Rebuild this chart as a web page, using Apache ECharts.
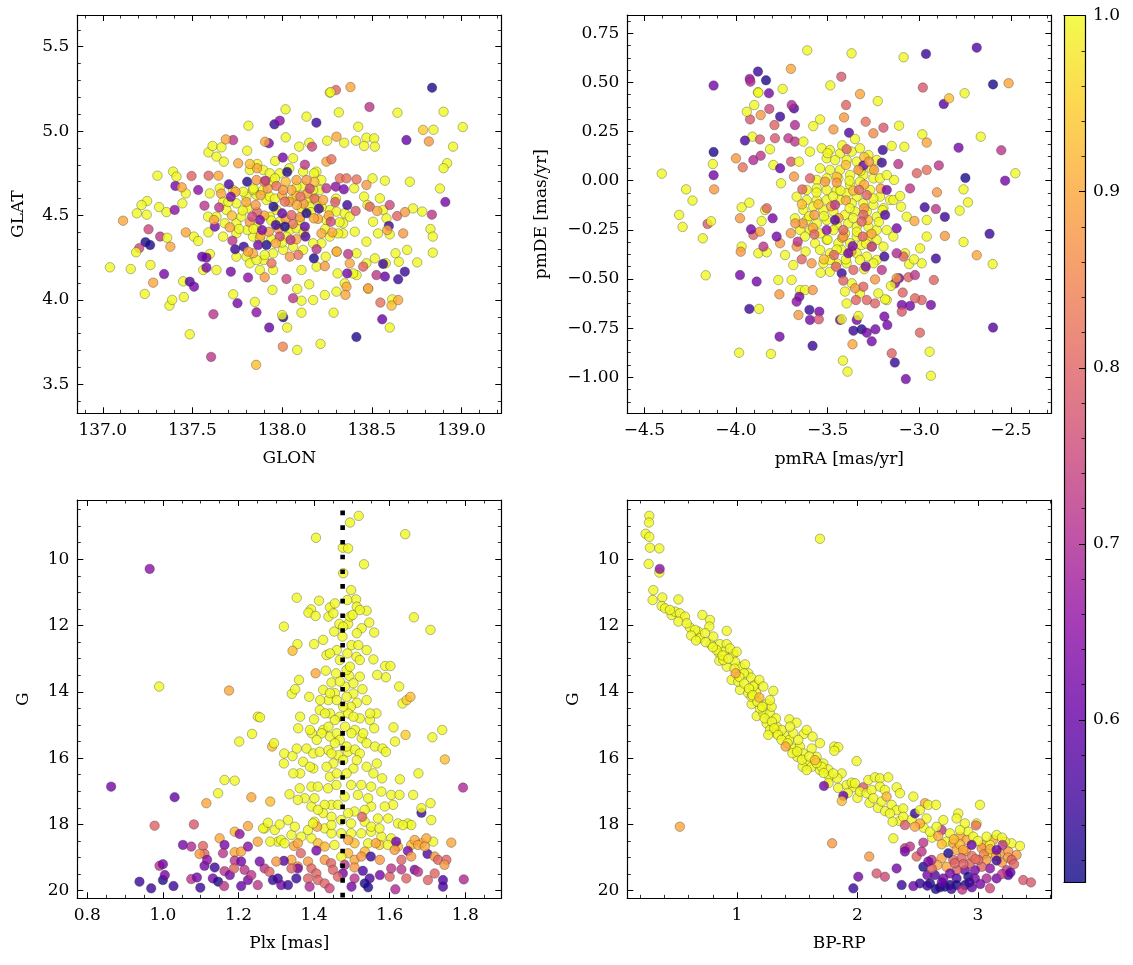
<!DOCTYPE html>
<html><head><meta charset="utf-8">
<script src="https://cdn.jsdelivr.net/npm/echarts@6/dist/echarts.min.js"></script>
<style>html,body{margin:0;padding:0;background:#fff}#c{width:1133px;height:965px}</style>
</head><body><div id="c"></div>
<script>
// ---------- DATA ----------
// Panel 1: [GLON, GLAT, probability]
const glonGlatOuter = [
[138.836,5.257,0.52],[138.381,5.261,0.9],[138.300,5.243,0.8],[138.270,5.230,1],
[138.900,5.115,1],[139.007,5.024,1],[138.844,5.008,1],[138.953,4.908,1],[138.920,4.810,1],[138.900,4.780,1],[138.880,4.660,1],[138.910,4.580,0.62],[138.835,4.505,0.72],[138.827,4.420,1],[138.840,4.375,1],[138.840,4.280,1],
[137.113,4.469,0.9],[137.190,4.513,1],[137.245,4.505,1],[137.247,4.586,1],[137.216,4.562,1],[137.305,4.736,1],[137.314,4.550,1],[137.355,4.520,1],[137.320,4.375,0.72],[137.359,4.368,1],[137.255,4.418,0.75],[137.238,4.342,0.52],[137.264,4.325,0.52],[137.203,4.306,0.75],[137.186,4.282,1],[137.040,4.193,1],[137.156,4.183,1],[137.266,4.207,1],[137.342,4.153,0.62],[137.281,4.102,0.9],[137.234,4.035,1],[137.372,3.966,1],[137.387,4.000,1],
[137.485,3.796,1],[137.604,3.662,0.72],[137.617,3.915,0.72],[137.855,3.615,0.93],[137.928,3.836,0.6],[137.857,3.926,0.65],[138.006,3.897,0.52],[138.000,3.910,1],[138.028,3.836,1],[138.084,3.703,1],[138.004,3.723,0.85],[138.108,3.924,1],[138.214,3.739,1],[138.287,3.924,1],[138.414,3.780,0.52],[138.558,3.885,0.6],[138.600,3.836,1]
];
const glonGlatYellow = [
[138.266,5.228,1],[138.019,5.129,1],[138.316,5.111,1],[138.643,5.109,1],[138.136,5.086,1],[138.424,5.026,1],[137.812,5.032,1],[138.020,4.963,1],[138.251,4.943,1],[138.303,4.967,0.9],[138.346,4.931,1],[138.411,4.943,1],[138.470,4.961,1],[138.513,4.957,1],[138.517,4.908,1],[138.457,4.912,1],[138.095,4.908,1],[138.151,4.931,1],[137.805,4.884,1],[137.589,4.874,1],[137.612,4.912,1],[137.662,4.904,1],[137.634,4.849,1],[137.675,4.819,1],[138.786,5.007,0.95],[138.712,4.700,1],[138.504,4.720,1],[138.573,4.706,1],[138.402,4.661,1],[138.457,4.612,1],[138.545,4.602,1],[138.476,4.562,1],[138.563,4.533,1],[138.730,4.542,1],[138.781,4.523,1],[138.507,4.463,1],[138.582,4.483,1],[138.600,4.388,1],[138.535,4.394,1],[138.470,4.345,1],[138.405,4.404,1],[138.340,4.394,1],[138.266,4.375,1],[138.303,4.286,1],[138.243,4.256,1],[138.192,4.197,1],[138.108,4.177,1],[138.151,4.092,1],[138.084,4.065,1],[138.108,3.995,1],[138.173,3.999,1],[138.238,4.029,1],[138.303,4.049,1],[138.349,4.098,1],[138.415,4.147,1],[138.480,4.065,1],[138.578,4.217,1],[138.632,4.276,1],[138.697,4.296,1],[138.753,4.222,1],[138.651,4.226,1],[138.517,4.246,1],[138.415,4.276,1],[138.470,4.217,1],[138.309,4.157,1],[138.396,4.157,1],[138.614,4.003,1],[138.647,3.999,0.9],
[137.392,4.760,1],[137.411,4.730,1],[137.463,4.631,1],[137.444,4.572,1],[137.508,4.375,1],[137.532,4.349,1],[137.589,4.400,1],[137.597,4.272,1],[137.448,4.110,1],[137.452,4.017,1],[137.727,4.033,1],[137.848,3.988,1],[137.946,4.059,1],[137.950,4.177,1],[137.898,4.236,1],[137.801,4.256,1],[137.820,4.217,1],[137.876,4.177,1],[137.745,4.256,1],[137.634,4.177,1],[137.560,4.177,1],
[137.820,4.770,1],[137.861,4.805,1],[137.961,4.823,1],[138.117,4.760,1],[138.191,4.760,1],[138.219,4.710,1],[138.210,4.651,1],[138.154,4.592,1],[138.266,4.533,1],[138.303,4.523,1],[138.349,4.513,1],[138.377,4.493,1],[138.340,4.454,1],[138.312,4.394,1],[138.219,4.335,1],[138.173,4.335,1],[138.117,4.296,1],[138.061,4.315,1],[138.006,4.296,1],[137.950,4.276,1],[137.903,4.266,1],[137.857,4.236,1],[137.745,4.454,1],[137.773,4.493,1],[137.745,4.572,1],[137.727,4.651,1],[137.801,4.612,1],[137.857,4.622,1],[137.894,4.651,1],[137.913,4.592,1],[137.931,4.493,1],[137.987,4.464,1],[138.043,4.414,1],[138.080,4.424,1],[138.052,4.592,1],[138.108,4.542,1],[138.154,4.552,1],[138.191,4.592,1],[138.173,4.651,1],[137.987,4.750,1],[137.894,4.770,1],[137.838,4.651,1],[137.652,4.661,1],[137.597,4.631,1],[137.587,4.493,1],[137.634,4.493,1],[137.671,4.582,1],[137.690,4.533,1],[137.680,4.454,1],[137.745,4.394,1],[137.838,4.375,1],[137.876,4.365,1],[137.969,4.533,1],[137.857,4.434,1],[138.098,4.473,1],[138.247,4.473,1],[138.024,4.375,1],[137.950,4.700,1],[138.117,4.671,1],[137.807,4.542,1],[137.783,4.641,1],[137.931,4.612,1],[137.671,4.375,1],[137.805,4.414,1],[137.931,4.750,1],[138.061,4.839,1],[138.178,4.750,1]
];
const glonGlatCore = [
[137.88,4.62,0.9],[137.92,4.66,0.88],[137.96,4.60,1],[138.00,4.62,0.9],[138.04,4.58,0.88],[138.08,4.62,0.93],[138.12,4.57,0.88],[138.16,4.52,1],[138.20,4.48,0.9],[138.24,4.42,1],[138.10,4.49,0.88],[138.06,4.45,0.82],[138.02,4.48,0.88],[137.98,4.42,0.9],[137.94,4.47,1],[137.90,4.50,0.9],[137.86,4.52,0.8],[137.82,4.46,0.88],[137.78,4.53,1],[137.80,4.58,0.9],[137.84,4.66,1],[137.90,4.70,0.9],[137.96,4.72,1],[138.02,4.70,0.93],[138.08,4.67,1],[138.14,4.63,0.9],[138.18,4.60,0.8],[138.22,4.55,1],[138.26,4.50,0.9],[138.28,4.40,0.9],[138.12,4.40,1],[138.08,4.36,0.9],[138.00,4.34,1],[137.94,4.36,1],[137.88,4.38,0.9],[137.84,4.42,1],[137.76,4.42,1],[137.72,4.50,0.93],[137.70,4.58,1],[137.74,4.64,0.9],[138.30,4.60,1],[138.32,4.46,1],[138.18,4.70,0.93],[138.04,4.78,1],[137.86,4.78,0.9]
];
const glonGlatColored = [
[137.805,4.700,0.52],[137.703,4.685,0.57],[137.714,4.611,0.62],[137.649,4.548,0.72],[137.625,4.434,0.62],[137.567,4.558,0.72],[137.532,4.651,0.65],[137.405,4.675,0.62],[137.401,4.533,0.65],[137.495,4.734,0.8],
[137.755,4.809,0.9],[137.820,4.805,0.93],[137.857,4.710,0.88],[137.907,4.706,0.72],[137.968,4.675,0.82],[138.028,4.758,0.52],[138.004,4.843,0.62],[138.127,4.801,0.72],[138.080,4.710,0.9],[138.136,4.710,0.88],[138.154,4.659,0.75],[138.102,4.612,0.82],[138.052,4.651,0.9],[138.006,4.651,0.88],[137.952,4.552,0.52],[138.000,4.513,0.6],[138.015,4.434,0.52],[137.965,4.444,0.55],[138.052,4.503,0.8],[138.136,4.513,0.52],[138.205,4.540,0.55],[138.177,4.483,0.9],[138.127,4.434,0.6],[138.130,4.375,0.57],[138.047,4.355,0.72],[137.987,4.375,0.75],[137.926,4.404,0.88],[137.888,4.414,0.62],[137.876,4.473,0.62],[137.833,4.493,0.75],[137.853,4.562,0.88],[137.913,4.325,0.52],[137.866,4.325,0.62],[137.786,4.315,0.55],[137.738,4.300,0.55],[137.723,4.351,0.72],[137.708,4.430,0.9],[138.015,4.582,0.82],[138.082,4.562,0.9],[138.229,4.592,0.9],[138.247,4.661,0.72],[138.299,4.671,0.65],[138.344,4.655,0.62],[138.363,4.562,0.55],[138.271,4.463,0.75],[138.219,4.394,0.9],[138.177,4.246,0.52],[138.192,4.300,0.72],[138.090,4.266,0.82],[138.043,4.256,0.88],[137.965,4.335,0.9],[137.941,4.217,0.82],[137.838,4.276,0.9],[138.247,4.819,0.9],[138.275,4.833,0.82],[138.322,4.720,0.82],[138.359,4.720,0.82],[138.415,4.714,0.82],[138.470,4.681,0.88],[138.489,4.552,0.8],[138.600,4.562,0.75],[138.641,4.497,0.8],[138.595,4.438,0.55],[138.675,4.394,0.88],[138.684,4.167,0.55],[138.647,4.122,0.55],[138.573,4.138,0.6],[138.526,4.147,0.72],[138.563,4.213,0.55],[138.452,4.197,0.8],[138.368,4.272,0.72],[138.377,4.217,0.9],[138.363,4.157,0.62],[138.167,4.908,0.75],[137.926,4.928,0.62],[137.957,5.040,0.55],[137.987,5.062,0.65],[138.191,5.050,0.55],[138.487,5.143,0.72],[138.693,4.947,0.6],[137.727,4.947,0.72],[137.686,4.951,0.9],[137.578,4.250,0.62],[137.554,4.256,0.6],[137.714,4.167,0.62],[137.810,4.132,0.65],[137.485,4.108,0.57],[137.509,4.078,0.62],[137.751,3.980,0.62],[138.024,4.124,0.75],[138.061,4.010,0.72],[138.359,4.078,0.9],[138.548,3.984,0.82],[137.903,4.134,0.88],
[138.818,4.939,0.88],[137.905,4.937,0.9],[138.296,4.580,0.78],[138.410,4.527,0.78],[138.530,4.527,0.9],[138.685,4.520,0.88],[138.586,4.414,0.9],[138.353,4.030,0.9],[138.479,4.069,0.88],[138.610,3.966,0.93],[138.305,4.286,0.9],[138.238,4.200,0.88],[137.578,4.191,0.62],[137.810,4.286,0.9],[137.463,4.400,0.9],[137.377,4.315,0.9],[137.440,4.667,0.9],[137.590,4.736,0.8],[137.645,4.736,0.9],[137.660,4.630,0.9],[137.620,4.473,0.9]
];

// Panel 2: [pmRA, pmDE, probability]
const pmOuter = [
[-4.405,0.036,1],[-4.272,-0.044,1],[-4.237,-0.101,1],[-4.310,-0.174,1],[-4.291,-0.235,1],[-4.181,-0.293,1],[-4.165,-0.481,1],[-4.155,-0.220,0.78],[-4.136,-0.206,1],[-4.122,0.146,0.52],[-4.126,0.085,1],[-4.122,0.028,0.62],[-4.119,-0.044,0.88],[-4.122,0.484,0.62],
[-3.983,-0.875,1],[-3.809,-0.881,1],[-3.762,-0.793,0.62],[-3.582,-0.840,0.55],[-3.416,-0.915,1],[-3.391,-0.971,1],[-3.364,-0.832,0.9],[-3.259,-0.817,0.62],[-3.150,-0.878,0.8],[-3.133,-0.925,0.55],[-3.073,-1.009,0.62],[-2.996,-0.773,0.8],[-2.943,-0.870,1],[-2.936,-0.992,1],[-2.597,-0.747,0.58],
[-2.599,-0.424,1],[-2.686,-0.379,0.9],[-2.616,-0.270,0.55],[-2.758,-0.312,1],[-2.860,-0.281,0.88],[-2.909,-0.396,0.55],[-2.920,-0.505,0.8],[-2.936,-0.632,0.62],[-2.986,-0.607,0.8],[-2.860,-0.184,0.55],[-2.909,-0.144,0.72],[-2.779,-0.152,1],[-2.734,-0.110,1],[-2.758,-0.044,1],[-2.903,-0.059,0.88],[-2.748,0.014,0.52],[-2.531,0.000,0.62],[-2.475,0.038,1],[-2.552,0.155,0.72],[-2.664,0.224,1],[-2.785,0.168,0.62],[-2.893,0.078,0.72],[-2.866,0.390,0.58],[-2.837,0.419,0.93],[-2.752,0.445,1],[-2.980,0.474,0.78],[-2.597,0.490,0.52],[-2.512,0.496,0.9],[-2.686,0.677,0.58],[-2.963,0.645,0.55],[-3.085,0.628,1],[-3.369,0.648,1],[-3.611,0.663,1],[-3.700,0.569,0.9],[-3.880,0.555,0.55],[-3.836,0.511,0.52],[-3.925,0.518,0.65],[-3.921,0.504,0.7],[-3.745,0.467,1],[-3.880,0.450,1],[-3.485,0.485,1],[-3.425,0.529,0.78]
];
const pmYellow = [
[-3.532,0.165,1],[-3.487,0.156,1],[-3.432,0.139,1],[-3.368,0.148,1],[-3.323,0.165,1],[-3.277,0.131,1],[-3.232,0.105,1],[-3.505,0.114,1],[-3.459,0.105,1],[-3.396,0.105,1],[-3.341,0.097,1],[-3.541,0.063,1],[-3.487,0.055,1],[-3.432,0.055,1],[-3.377,0.029,1],[-3.305,0.029,1],[-3.250,0.012,1],[-3.214,0.012,1],[-3.559,0.004,1],[-3.505,0.012,1],[-3.441,0.012,1],[-3.377,-0.022,1],[-3.323,-0.005,1],[-3.614,-0.047,1],[-3.559,-0.039,1],[-3.505,-0.047,1],[-3.450,-0.047,1],[-3.396,-0.064,1],[-3.341,-0.081,1],[-3.268,-0.047,1],[-3.214,-0.081,1],[-3.159,-0.098,1],[-3.669,-0.081,1],[-3.614,-0.098,1],[-3.559,-0.098,1],[-3.505,-0.098,1],[-3.432,-0.098,1],[-3.368,-0.115,1],[-3.305,-0.115,1],[-3.250,-0.123,1],[-3.195,-0.140,1],[-3.632,-0.149,1],[-3.578,-0.132,1],[-3.523,-0.149,1],[-3.468,-0.157,1],[-3.405,-0.174,1],[-3.350,-0.157,1],[-3.286,-0.157,1],[-3.232,-0.183,1],[-3.678,-0.191,1],[-3.614,-0.200,1],[-3.559,-0.217,1],[-3.505,-0.200,1],[-3.450,-0.225,1],[-3.387,-0.217,1],[-3.341,-0.234,1],[-3.277,-0.234,1],[-3.232,-0.251,1],[-3.177,-0.251,1],[-3.650,-0.251,1],[-3.596,-0.251,1],[-3.541,-0.268,1],[-3.468,-0.251,1],[-3.405,-0.268,1],[-3.341,-0.284,1],[-3.277,-0.284,1],[-3.232,-0.301,1],[-3.623,-0.284,1],[-3.568,-0.318,1],[-3.505,-0.301,1],[-3.441,-0.318,1],[-3.377,-0.318,1],[-3.314,-0.327,1],[-3.259,-0.335,1],[-3.541,-0.352,1],[-3.487,-0.369,1],[-3.423,-0.352,1],[-3.341,-0.369,1],[-3.286,-0.386,1],[-3.232,-0.403,1],[-3.523,-0.420,1],[-3.450,-0.420,1],[-3.396,-0.420,1],[-3.323,-0.403,1],[-3.250,-0.420,1],[-3.487,-0.463,1],
[-3.969,-0.135,1],[-3.927,-0.112,1],[-3.841,-0.149,1],[-3.860,-0.205,1],[-3.878,-0.369,1],[-3.832,-0.364,1],[-3.732,-0.378,1],[-3.687,-0.429,1],[-3.769,-0.505,1],[-3.696,-0.505,1],[-3.650,-0.556,1],[-3.623,-0.556,1],[-3.487,-0.403,1],[-3.077,-0.369,1],[-2.995,-0.344,1],[-2.959,-0.200,1],[-3.099,-0.132,1],[-3.141,-0.098,1],[-3.104,-0.078,1],[-3.137,0.004,1],[-3.177,0.029,1],[-3.068,-0.183,1],[-3.141,-0.284,1],[-3.195,-0.335,1],[-2.986,-0.420,1],[-3.323,-0.573,1],[-3.396,-0.624,1]
];
const pmCore = [
[-3.45,0.02,0.93],[-3.38,0.00,1],[-3.30,-0.02,0.9],[-3.25,-0.09,1],[-3.40,-0.10,0.9],[-3.47,-0.08,1],[-3.55,-0.12,0.93],[-3.52,-0.18,1],[-3.44,-0.19,0.9],[-3.36,-0.19,1],[-3.28,-0.20,0.93],[-3.22,-0.21,1],[-3.26,-0.27,0.9],[-3.34,-0.26,1],[-3.42,-0.29,0.93],[-3.50,-0.30,1],[-3.58,-0.24,0.9],[-3.60,-0.18,1],[-3.56,-0.06,1],[-3.40,0.08,0.93],[-3.32,0.05,1],[-3.26,0.06,1],[-3.21,-0.04,0.9],[-3.20,-0.15,1],[-3.30,-0.14,0.88],[-3.38,-0.14,1],[-3.48,-0.13,0.9],[-3.43,-0.05,1],[-3.36,-0.05,0.93],[-3.29,-0.32,1],[-3.37,-0.36,0.9],[-3.45,-0.35,1],[-3.52,-0.40,0.93],[-3.40,-0.40,1],[-3.30,-0.45,1],[-3.62,-0.36,1],[-3.64,-0.12,0.93],[-3.50,0.14,1],[-3.42,0.18,1],[-3.30,0.12,0.93]
];
const pmColored = [
[-3.820,0.445,0.62],[-3.878,0.448,1],[-3.683,0.368,0.57],[-3.696,0.385,0.7],[-3.759,0.326,0.55],[-3.678,0.283,0.7],[-3.818,0.365,0.75],[-3.865,0.334,0.88],[-3.923,0.312,0.78],[-3.900,0.385,1],[-3.941,0.351,1],[-3.790,0.283,0.8],[-3.910,0.224,1],[-3.869,0.210,0.78],[-3.951,0.204,0.57],[-3.787,0.216,0.78],[-3.714,0.216,0.72],[-3.678,0.199,0.72],[-3.632,0.199,1],[-3.814,0.160,1],[-4.000,0.114,0.88],[-3.963,0.068,0.82],[-3.905,0.105,0.7],[-3.865,0.127,0.72],[-3.796,0.080,1],[-3.759,0.063,0.6],[-3.754,-0.013,1],[-3.699,0.097,0.78],[-3.656,0.097,1],[-3.596,0.148,1],[-3.541,0.312,1],[-3.578,0.278,1],[-3.399,0.385,0.8],[-3.410,0.322,0.88],[-3.292,0.300,0.82],[-3.195,0.270,0.78],[-3.250,0.241,0.86],[-3.383,0.244,0.58],[-3.468,0.261,0.88],[-3.350,0.212,1],[-3.226,0.405,1],[-3.110,0.280,1],[-3.323,0.441,0.9],
[-2.983,0.236,1],[-2.959,0.194,0.9],[-3.199,0.156,0.55],[-3.204,0.092,0.55],[-3.150,0.177,1],[-3.081,0.173,1],[-3.114,0.085,0.72],[-3.305,0.077,0.6],[-3.274,0.097,0.88],[-3.246,0.055,0.88],[-3.396,0.160,0.8],[-3.013,0.038,0.8],[-2.959,0.055,0.82],[-3.050,-0.039,0.72],[-3.026,-0.205,0.9],[-2.970,-0.135,0.55],[-2.959,-0.284,1],[-3.086,-0.386,0.8],[-3.123,-0.369,0.7],[-3.055,-0.424,1],[-3.028,-0.400,1],[-3.059,-0.491,0.8],[-3.090,-0.569,0.8],[-3.023,-0.598,0.8],[-3.050,-0.637,0.62],[-3.095,-0.632,0.62],[-3.110,-0.496,0.62],[-3.132,-0.522,0.65],[-3.154,-0.535,1],[-3.177,-0.607,1],[-3.223,-0.573,1],[-3.241,-0.624,0.8],[-3.286,-0.607,0.8],[-3.305,-0.539,0.8],[-3.345,-0.607,0.8],[-3.368,-0.522,1],[-3.405,-0.564,1],[-3.359,-0.454,0.8],[-3.423,-0.471,0.55],[-3.414,-0.508,0.8],[-3.454,-0.437,0.8],[-3.465,-0.378,0.8],[-3.387,-0.369,0.62],[-3.292,-0.437,0.62],[-3.259,-0.335,0.72],[-3.190,-0.386,0.55],[-3.204,-0.454,0.72],[-3.123,-0.242,0.62],[-3.177,-0.047,0.62],[-3.186,-0.174,0.57],[-3.305,-0.174,0.8],[-3.314,-0.208,0.8],[-3.308,-0.284,0.8],[-3.363,-0.332,0.62],[-3.414,-0.284,0.88],[-3.459,-0.200,0.57],[-3.505,-0.251,0.65],[-3.414,-0.251,0.8],[-3.328,-0.047,0.8],[-3.286,-0.073,0.8],[-3.332,0.055,0.88],[-3.450,-0.010,0.88],[-3.514,-0.005,0.88],[-3.459,-0.123,0.72],[-3.572,-0.174,0.88],[-3.636,-0.217,0.88],[-3.572,-0.273,0.8],[-3.638,-0.044,0.8],[-3.596,0.012,0.8],[-3.683,0.021,0.88],[-3.676,-0.217,0.88],[-3.701,-0.267,0.88],[-3.669,-0.335,0.88],[-3.641,-0.400,0.8],[-3.587,-0.420,0.88],[-3.663,-0.310,0.72],[-3.759,-0.318,0.88],[-3.800,-0.191,0.62],[-3.832,-0.140,0.8],[-3.778,-0.284,0.62],[-3.850,-0.335,0.72],[-3.905,-0.276,0.8],[-3.869,-0.259,0.88],[-3.978,-0.191,0.88],[-3.918,-0.247,0.62],[-3.969,-0.335,1],[-3.974,-0.361,0.88],[-3.978,-0.480,0.62],[-3.887,-0.513,0.62],[-3.927,-0.652,0.55],[-3.874,-0.652,1],[-3.763,-0.578,0.88],[-3.659,-0.683,0.88],[-3.654,-0.590,0.62],[-3.669,-0.615,0.65],[-3.599,-0.657,0.55],[-3.545,-0.666,0.62],[-3.596,-0.708,0.62],[-3.548,-0.705,0.78],[-3.581,-0.556,0.88],[-3.538,-0.468,1],[-3.432,-0.708,0.62],[-3.341,-0.708,0.62],[-3.359,-0.763,0.55],[-3.314,-0.756,0.52],[-3.286,-0.773,0.62],[-3.239,-0.756,0.62],[-3.190,-0.691,0.62],[-3.174,-0.734,0.62],[-3.095,-0.666,0.78],[-3.123,-0.496,0.88],[-3.023,-0.480,0.72],[-3.241,-0.502,0.88],[-3.350,-0.547,0.88],[-3.423,-0.705,1],[-3.332,-0.688,1],[-3.186,-0.603,1]
];

// Panel 3: [Plx, G, probability]
const plxUpper = [
[0.965,10.29,0.65],[0.990,13.84,1],[1.175,13.96,0.9],[1.202,15.50,1],[1.236,15.27,1],[1.251,14.75,1],
[1.518,8.69,1],[1.495,8.89,1],[1.405,9.35,1],[1.641,9.24,1],[1.476,9.65,1],[1.490,9.67,1],[1.477,10.42,1],[1.532,10.15,1],[1.498,10.93,1],[1.511,11.21,1],[1.513,11.43,1],[1.488,11.23,1],[1.354,11.16,1],[1.413,11.25,1],[1.392,11.51,1],[1.385,11.61,1],[1.404,11.71,1],[1.442,11.45,1],[1.438,11.73,1],[1.451,11.63,1],[1.453,12.18,1],[1.467,11.95,1],[1.490,11.95,1],[1.495,11.73,1],[1.502,11.68,1],[1.526,12.08,1],[1.539,11.55,1],[1.546,11.91,1],[1.559,12.21,1],[1.664,11.75,1],[1.708,12.13,1],[1.320,12.03,1],[1.356,12.56,1],[1.343,12.76,0.93],[1.400,12.56,1],[1.433,12.89,1],[1.475,12.33,1],[1.499,12.59,1],[1.517,12.59,1],[1.512,12.94,1],[1.488,12.84,1],[1.557,13.02,1],[1.588,13.22,1],[1.602,13.22,1],[1.590,13.56,1],[1.567,13.49,1],[1.521,13.54,1],[1.493,13.52,1],[1.458,13.44,1],[1.431,13.36,1],[1.404,13.44,0.9],[1.360,13.64,1],[1.341,14.06,1],[1.350,13.92,1],[1.387,14.15,1],[1.446,13.72,1],[1.455,14.04,1],[1.482,13.84,1],[1.504,14.05,1],[1.528,13.92,1],[1.513,14.33,1],[1.497,14.45,1],[1.424,13.94,1],[1.438,14.25,1],[1.415,14.55,1],[1.442,14.65,1],[1.468,14.75,1],[1.490,14.65,1],[1.521,14.80,1],[1.548,14.85,1],[1.565,14.65,1],[1.625,13.84,1],[1.634,14.35,1],[1.645,14.25,0.95],[1.655,14.15,0.93],[1.257,14.77,1],[1.363,14.75,1],[1.358,15.10,1],[1.400,14.83,1],[1.394,15.25,1],[1.424,15.15,1],[1.442,15.35,1],[1.460,15.25,1],[1.508,15.15,1],[1.526,15.40,1],[1.539,15.55,1],[1.561,15.65,1],[1.581,15.71,1],[1.590,15.81,1],[1.559,15.10,1],[1.610,15.07,1],[1.614,15.50,1],[1.642,15.30,0.95],[1.713,15.37,1],[1.739,15.15,1],[1.746,16.04,0.93],[1.676,16.46,1],[1.627,16.64,1],[1.580,16.61,1],[1.289,15.65,0.93],[1.294,15.55,1],[1.321,15.86,1],[1.343,15.94,1],[1.320,16.16,1],[1.354,15.71,1],[1.380,15.71,1],[1.398,15.86,1],[1.415,15.81,1],[1.438,15.76,1],[1.464,15.91,1],[1.489,15.81,1],[1.508,15.74,1],[1.477,16.06,1],[1.451,16.16,1],[1.398,16.31,1],[1.371,16.11,1],[1.504,16.31,1],[1.442,16.56,1],
[1.460,14.25,1],[1.486,14.15,1],[1.477,14.45,1],[1.455,14.85,1],[1.482,15.05,1],[1.499,15.25,1],[1.429,14.65,1],[1.420,15.25,1],[1.468,15.45,1],[1.486,15.65,1],[1.446,15.86,1],[1.455,15.55,1],[1.521,15.86,1],[1.530,15.25,1],[1.548,14.65,1],[1.539,14.25,1],[1.504,14.75,1],[1.438,15.05,1],[1.407,15.45,1],[1.389,15.15,1],[1.486,13.34,1],[1.468,13.04,1],[1.495,13.24,1],[1.460,12.74,1],[1.521,13.04,1],[1.539,12.74,1],[1.513,12.23,1],[1.477,12.03,1],[1.455,11.33,1],[1.521,11.53,1],[1.424,12.43,1],[1.442,12.84,1],[1.504,13.74,1],[1.468,13.69,1],[1.442,14.04,1],[1.416,14.25,1],[1.433,16.26,1],[1.460,16.46,1],[1.486,16.46,1],[1.513,16.06,1],[1.539,16.26,1],[1.566,16.16,1],[1.557,16.46,1],[1.389,16.26,1],[1.363,16.46,1],[1.345,16.46,1]
];
const plxLowerYellow = [
[1.393,16.86,1],[1.410,16.86,1],[1.437,16.91,1],[1.459,16.81,1],[1.498,16.81,1],[1.525,16.81,1],[1.551,16.86,1],[1.578,17.01,1],[1.604,17.11,1],[1.626,17.11,1],[1.662,17.11,1],[1.609,17.41,1],[1.587,17.46,1],[1.551,17.46,1],[1.534,17.56,1],[1.507,17.61,1],[1.446,17.41,1],[1.428,17.41,1],[1.393,17.46,1],[1.375,17.21,1],[1.357,17.26,1],[1.401,17.21,1],[1.424,17.66,1],[1.446,17.77,1],[1.472,17.87,1],[1.498,17.97,1],[1.534,17.92,1],[1.569,17.82,1],[1.596,17.82,1],[1.622,17.97,1],[1.648,17.97,1],[1.401,17.92,1],[1.428,18.12,1],[1.446,18.27,1],[1.472,18.27,1],[1.498,18.27,1],[1.525,18.27,1],[1.551,18.22,1],[1.578,18.37,1],[1.604,18.42,1],[1.393,18.42,1],[1.366,18.37,1],[1.340,18.32,1],[1.304,18.52,1],[1.269,18.12,1],[1.296,18.17,1],[1.313,18.47,1],[1.507,18.57,0.93],[1.543,18.57,1],[1.573,18.62,0.95],[1.595,18.62,1],[1.622,18.67,0.93],[1.657,18.62,0.93],[1.715,18.52,1],[1.684,18.57,0.93],[1.410,18.57,0.93],[1.428,18.67,0.92],[1.490,18.87,0.92],[1.507,19.07,0.9],[1.534,18.82,0.92],
[1.410,17.56,1],[1.481,17.16,1],[1.463,17.41,1],[1.516,17.11,1],[1.543,17.21,1],[1.490,17.66,1],[1.446,18.02,1],[1.551,18.07,1],[1.573,18.12,1],[1.384,18.17,1],[1.349,18.07,1],[1.331,17.87,1]
];
const plxLowerColored = [
[0.863,16.86,0.62],[1.031,17.18,0.6],[1.115,17.36,0.9],[1.234,17.18,0.9],[1.284,17.31,0.93],[0.978,18.04,0.8],[1.082,18.00,0.78],[1.146,17.06,1],[1.163,16.66,1],[1.190,16.68,1],[1.335,17.09,1],[1.362,16.91,1],[1.794,16.89,0.7],[1.684,17.65,0.55],[1.708,17.36,1],[1.710,17.87,1],[1.763,18.55,0.9],[1.684,17.51,1],[1.657,18.02,1],[1.635,18.02,1],[1.225,18.05,0.9],[1.190,18.22,0.92],[1.203,18.29,0.65],[1.150,18.42,0.9],[1.053,18.62,0.62],[1.075,18.67,0.7],[1.106,18.65,0.8],[1.110,18.89,0.8],[1.097,18.89,0.88],[1.163,18.62,0.62],[1.159,18.87,0.72],[1.190,18.84,0.9],[1.207,18.82,0.9],[1.225,18.67,0.65],[1.251,18.52,0.9],[1.265,18.12,1],[1.278,17.95,1],[1.309,18.00,1],[1.284,18.52,1],[1.322,18.57,1],[1.347,18.65,0.9],[1.357,18.57,0.9],[1.365,18.87,0.8],[1.406,18.79,0.62],[1.340,19.07,0.9],[1.320,19.10,0.58],[1.357,19.27,0.88],[1.384,19.12,0.88],[1.393,19.33,0.8],[1.406,19.48,0.8],[1.428,19.07,0.88],[1.445,19.17,0.8],[1.408,18.07,0.9],[1.397,17.97,1],[1.454,18.62,1],[1.472,18.97,1],[1.481,19.22,0.72],[1.476,19.48,0.62],[1.507,19.30,0.88],[1.527,17.77,0.8],[1.490,18.47,0.9],[1.525,18.97,0.88],[1.550,18.97,0.55],[1.529,19.40,0.57],[1.547,19.63,0.57],[1.534,19.78,0.52],[1.543,19.90,0.52],[1.507,19.63,0.72],[1.499,19.88,0.62],[1.574,19.53,0.62],[1.574,19.07,0.88],[1.600,19.58,0.8],[1.617,18.52,0.62],[1.613,18.77,0.88],[1.631,19.07,0.8],[1.644,19.63,0.8],[1.631,19.36,0.72],[1.648,18.80,0.62],[1.666,19.37,0.62],[1.675,19.43,0.72],[1.700,18.89,0.57],[1.697,18.42,0.9],[1.666,18.47,0.9],[1.675,18.62,0.9],[1.693,18.67,0.9],[1.657,18.97,0.88],[1.719,18.97,0.88],[1.728,19.07,0.8],[1.750,19.07,0.8],[1.745,19.22,0.88],[1.701,19.68,0.8],[1.719,19.48,0.8],[1.741,19.68,0.57],[1.741,19.88,0.57],[1.796,19.66,0.7],[1.615,19.96,0.7],[1.604,19.33,0.72],[1.563,18.57,0.9],
[0.938,19.73,0.55],[0.969,19.93,0.55],[1.000,19.68,0.52],[1.005,19.53,0.62],[0.991,19.25,0.72],[1.000,19.20,0.62],[1.028,19.86,0.55],[1.075,19.65,0.72],[1.090,19.60,0.62],[1.099,19.91,0.55],[1.110,19.25,0.62],[1.117,19.07,0.65],[1.137,19.30,0.55],[1.132,19.63,0.62],[1.146,19.73,0.52],[1.163,19.41,0.72],[1.162,19.86,0.72],[1.177,19.53,0.62],[1.190,19.09,0.72],[1.188,19.33,0.8],[1.207,19.12,0.62],[1.216,19.37,0.72],[1.225,19.68,0.62],[1.207,19.86,0.6],[1.234,19.53,0.72],[1.251,19.83,0.72],[1.269,19.33,0.72],[1.282,19.43,0.8],[1.291,19.68,0.55],[1.304,19.63,0.55],[1.313,19.83,0.62],[1.331,19.83,0.55],[1.353,19.63,0.55],[1.357,19.33,0.62],[1.300,19.12,0.88],[1.340,19.33,0.8],[1.384,19.63,0.8],[1.410,19.68,0.8],[1.428,19.78,0.8],[1.441,19.93,0.75],[1.450,19.37,0.8],[1.388,19.88,0.7],[1.463,19.58,0.8],[1.256,19.12,0.62]
];
const plxCluster = 1.4755;      // vertical reference line (mean parallax)
const plxLineG = [8.53, 20.5];  // G span of that line

// Panel 4: [BP-RP, G, probability]
const cmdUpper = [
[0.273,8.69,1],[0.270,8.89,1],[0.242,9.23,1],[0.273,9.32,1],[0.278,9.65,1],[0.356,9.67,1],[1.689,9.38,1],[0.267,10.14,1],[0.356,10.40,1],[0.306,10.93,1],[0.300,11.23,1],[0.381,11.15,1],[0.375,11.41,1],[0.514,11.21,1],[0.403,11.48,1],[0.458,11.68,1],[0.486,11.58,1],[0.527,11.63,1],[0.569,11.73,1],[0.514,11.88,1],[0.610,12.06,1],[0.713,11.68,1],[0.776,11.83,1],[0.771,12.03,1],[0.679,12.18,1],[0.693,12.38,1],[0.782,12.56,1],[0.859,12.56,1],[0.915,12.16,1],[0.915,12.56,1],[0.854,12.84,1],[0.892,12.79,1],[0.970,12.86,1],[0.854,13.06,1],[0.915,13.24,1],[0.956,13.64,1],[1.025,13.24,1],[1.067,13.17,1],[1.094,13.44,1],[1.117,13.57,1],[1.025,13.94,1],[1.094,14.04,1],[1.150,13.79,1],[1.186,13.64,1],[1.158,14.02,1],[1.302,13.97,1],[1.247,14.37,1],[1.122,14.37,1],[1.164,14.73,1],[1.219,14.65,1],[1.274,14.65,1],[1.247,14.95,1],[1.274,15.15,1],[1.330,15.05,1],[1.435,14.83,1],[1.495,14.93,1],[1.330,15.25,1],[1.399,15.33,1],[1.435,15.45,1],[1.468,15.71,1],[1.523,15.65,1],[1.556,15.27,1],[1.579,15.15,1],[1.628,15.35,1],[1.689,15.55,1],[1.551,15.86,1],[1.579,16.16,1],[1.545,16.26,1],[1.620,16.26,1],[1.689,16.36,1],[1.717,16.16,1],[1.758,16.34,1],[1.808,15.65,1],[1.841,15.67,1],[1.808,15.78,1],[1.993,16.09,1],[1.766,16.56,1],[1.869,16.46,1],[1.833,16.61,1],[1.910,16.81,1],[1.966,16.88,1],
[0.942,12.69,1],[0.984,13.09,1],[1.058,13.44,1],[1.011,13.69,1],[1.136,13.84,1],[1.219,13.84,1],[1.191,14.50,1],[1.288,14.45,1],[1.324,14.80,1],[1.371,15.15,1],[1.468,15.25,1],[1.509,15.45,1],[1.620,15.71,1],[1.661,15.96,1],[1.501,15.96,1],[1.579,16.36,1],[0.804,12.33,1],[0.735,12.23,1],[0.652,12.13,1],[0.583,11.93,1],[0.444,11.53,1],[0.832,12.74,1],[0.887,13.04,1],[0.998,12.79,1],[1.122,14.15,1],[1.274,14.25,1],[1.260,15.30,1],[1.440,15.05,1],[1.703,16.26,1],[1.800,16.46,1],
[0.62,12.30,1],[0.66,12.45,1],[0.74,12.50,1],[0.80,12.65,1],[0.88,12.90,1],[0.93,13.00,1],[0.98,13.30,1],[1.02,13.55,1],[1.06,13.75,1],[1.10,13.90,1],[1.13,14.10,1],[1.17,14.30,1],[1.21,14.45,1],[1.23,14.80,1],[1.29,14.90,1],[1.31,15.10,1],[1.34,15.30,1],[1.37,15.45,1],[1.42,15.55,1],[1.46,15.85,1],[1.50,15.80,1],[1.54,16.05,1],[1.60,15.95,1],[1.66,16.15,1],[1.72,16.45,1],[1.76,16.75,1],[1.84,16.90,1],[1.92,17.05,1],[2.00,17.20,1],[2.10,17.35,1],[2.17,17.50,1],[2.23,17.60,1],[2.35,17.90,1],[2.45,17.85,1],[2.55,18.10,1],[2.62,18.40,1],
[0.359,10.29,0.65],[0.989,13.44,0.9],[1.186,14.17,0.92],[1.404,15.65,0.9],[1.648,16.06,0.93],[1.722,16.84,0.62],[1.883,17.14,0.6],[0.526,18.07,0.9],[1.790,18.57,0.88],[1.870,17.29,0.93]
];
const cmdLower = [
[1.952,16.74,1],[1.979,16.76,1],[2.049,16.88,0.78],[2.090,16.66,1],[2.145,16.58,1],[2.187,16.61,1],[2.256,16.58,1],[2.021,17.01,1],[2.076,17.06,1],[2.118,16.96,1],[2.187,16.86,1],[2.228,16.96,1],[2.325,16.88,1],[2.353,17.06,1],[2.132,17.21,1],[2.201,17.31,1],[2.242,17.16,0.92],[2.284,17.41,1],[2.325,17.57,1],[2.380,17.52,1],[2.270,17.67,1],[2.380,17.77,1],[2.464,17.16,1],[2.477,17.67,0.55],[2.560,17.36,0.9],[2.519,17.57,1],[2.588,17.41,1],[2.652,17.41,1],[2.574,17.82,1],[2.519,17.97,0.9],[2.477,18.07,0.9],[2.394,18.02,0.78],[2.292,17.92,1],[2.298,18.42,1],[2.602,18.22,1],[2.699,18.17,0.72],[2.671,18.35,0.9],[2.657,18.07,1],[2.713,17.87,1],[2.837,17.67,1],[2.823,17.82,1],[2.892,17.97,1],[2.920,18.22,1],[2.989,17.97,1],[2.984,18.03,0.82],[3.017,17.41,1],[2.768,18.27,1],[2.740,18.52,1],[2.795,18.57,0.9],[2.851,18.37,0.9],[2.906,18.47,0.9],[3.045,18.62,0.9],[3.127,18.47,0.9],[3.280,18.57,1],[3.349,18.65,1],[3.224,18.52,1],[3.086,18.87,1],[2.823,18.77,0.9],[3.031,18.72,0.88],[3.100,18.62,1],[3.183,18.87,0.88],[3.252,18.82,0.88],[3.321,18.92,0.88],[3.072,18.37,1],[3.155,18.32,1],[2.961,18.37,1],[2.851,18.17,1],[2.900,18.80,0.9],[3.050,18.90,0.85],[3.150,18.95,0.9],[3.200,19.15,0.88],[2.850,18.60,0.93],[3.000,18.50,1],[3.200,18.40,1],[2.098,18.97,0.88],[2.740,19.28,0.9],[2.878,18.77,0.9],[2.699,19.02,0.9],[2.663,19.23,0.9],[3.072,19.07,0.88],[2.70,18.60,0.93],[2.80,18.45,0.93],[3.10,18.75,0.9],[3.25,19.00,0.88],
[2.948,18.62,0.6],[3.205,18.62,0.72],[3.155,18.77,0.6],[3.280,19.07,0.8],[3.155,19.09,0.55],[3.100,19.33,0.65],[3.238,19.38,0.72],[3.252,19.53,0.57],[3.031,19.28,0.8],[2.975,19.38,0.62],[2.892,19.38,0.62],[2.823,19.38,0.8],[2.768,19.48,0.62],[2.713,19.63,0.62],[2.643,19.53,0.57],[2.580,19.53,0.62],[2.547,19.28,0.52],[2.616,19.33,0.8],[2.795,19.07,0.8],[2.865,19.02,0.8],[2.754,18.87,0.52],[2.491,18.97,0.8],[2.533,18.82,0.72],[2.616,19.07,0.72],[2.394,18.72,0.72],[2.436,18.67,0.72],[2.394,18.82,0.62],[2.547,18.55,0.72],[2.588,19.12,0.62],[2.325,19.33,0.62],[2.228,19.58,0.75],[2.159,19.48,0.78],[2.007,19.58,0.62],[1.966,19.93,0.55],[2.367,19.83,0.55],[2.464,19.86,0.62],[2.519,19.78,0.55],[2.602,19.78,0.52],[2.685,19.90,0.52],[2.768,19.83,0.52],[2.823,19.63,0.57],[2.892,19.83,0.52],[2.920,19.58,0.52],[2.975,19.63,0.62],[3.072,19.63,0.7],[3.155,19.63,0.62],[3.100,19.93,0.75],[3.376,19.68,0.78],[3.440,19.75,0.78],[2.823,19.83,0.52],[2.726,19.88,0.52],[2.809,19.17,0.8],[2.934,19.17,0.8],[3.003,19.07,0.8],[2.950,18.95,0.82],[2.980,19.05,0.82],[2.880,19.20,0.8],[3.300,19.20,0.8],
[2.650,19.95,0.52],[2.780,19.95,0.55],[2.870,19.97,0.72],[2.950,19.90,0.6],[2.580,19.85,0.55],[2.930,19.75,0.55],[3.020,19.80,0.62],[3.200,19.50,0.72],[3.270,19.45,0.6],[2.700,19.75,0.6]
];

// Colour scale
const probRange = [0.5077, 1.0];
const plasma = ['#0d0887','#41049d','#6a00a8','#8f0da4','#b12a90','#cc4778','#e16462','#f2844b','#fca636','#fcce25','#f0f921'];

// ---------- LAYOUT / HELPERS ----------
const FONT = '"DejaVu Serif", "Liberation Serif", serif';
const FS = 17;
function tickVals(min, max, step) {
  const out = [];
  for (let k = Math.ceil(min / step - 1e-9); k * step <= max + 1e-9; k++) out.push(+(k * step).toFixed(6));
  return out;
}
function minorVals(min, max, step, ndiv) {
  return tickVals(min, max, step / ndiv).filter(v => Math.abs(v / step - Math.round(v / step)) > 1e-6);
}
function fmt(dec) { return v => Number(v).toFixed(dec).replace('-', '\u2212'); }

const grids = [
  {left: 77.3, top: 15, width: 424, height: 398.3},
  {left: 627.3, top: 15, width: 424, height: 398.3},
  {left: 77.3, top: 500, width: 424, height: 398.3},
  {left: 627.3, top: 500, width: 424, height: 398.3},
  {left: 1064, top: 15.7, width: 21, height: 866.6}
];
const xAxes = [], yAxes = [], mainX = [], mainY = [];

function addAxes(dim, grid, c) {
  const list = dim === 'x' ? xAxes : yAxes;
  const sides = dim === 'x' ? ['bottom', 'top'] : ['left', 'right'];
  const maj = tickVals(c.min, c.max, c.step);
  const mnr = minorVals(c.min, c.max, c.step, c.ndiv);
  const base = {type: 'value', gridIndex: grid, min: c.min, max: c.max, inverse: !!c.inverse, z: 10,
    splitLine: {show: false}, minorTick: {show: false}, minorSplitLine: {show: false}};
  sides.forEach((pos, i) => {
    if (i === 0) (dim === 'x' ? mainX : mainY)[grid] = list.length;
    list.push(Object.assign({}, base, {
      position: pos,
      axisLine: {show: true, onZero: false, lineStyle: {color: '#000', width: 1.2}},
      axisTick: {show: true, inside: true, length: 6, lineStyle: {color: '#000', width: 1}, customValues: maj},
      axisLabel: i === 0 ? {show: true, customValues: maj, margin: dim === 'x' ? 9 : 8, formatter: fmt(c.dec),
        color: '#000', fontSize: FS, fontFamily: FONT} : {show: false},
      name: i === 0 ? c.name : '',
      nameLocation: 'middle', nameGap: c.nameGap,
      nameTextStyle: {color: '#000', fontSize: FS, fontFamily: FONT}
    }));
    list.push(Object.assign({}, base, {
      position: pos,
      axisLine: {show: false, onZero: false},
      axisTick: {show: true, inside: true, length: 3.5, lineStyle: {color: '#000', width: 0.8}, customValues: mnr},
      axisLabel: {show: false}
    }));
  });
}

addAxes('x', 0, {min: 136.858, max: 139.222, step: 0.5, ndiv: 5, dec: 1, name: 'GLON', nameGap: 37});
addAxes('y', 0, {min: 3.328, max: 5.688, step: 0.5, ndiv: 5, dec: 1, name: 'GLAT', nameGap: 50});
addAxes('x', 1, {min: -4.593, max: -2.279, step: 0.5, ndiv: 5, dec: 1, name: 'pmRA [mas/yr]', nameGap: 38});
addAxes('y', 1, {min: -1.183, max: 0.843, step: 0.25, ndiv: 4, dec: 2, name: 'pmDE [mas/yr]', nameGap: 77});
addAxes('x', 2, {min: 0.7735, max: 1.8953, step: 0.2, ndiv: 4, dec: 1, name: 'Plx [mas]', nameGap: 37});
addAxes('y', 2, {min: 8.21, max: 20.23, step: 2, ndiv: 4, dec: 0, name: 'G', nameGap: 45, inverse: true});
addAxes('x', 3, {min: 0.09, max: 3.609, step: 1, ndiv: 5, dec: 0, name: 'BP-RP', nameGap: 37});
addAxes('y', 3, {min: 8.21, max: 20.23, step: 2, ndiv: 4, dec: 0, name: 'G', nameGap: 45, inverse: true});

// colour bar axes
const cbX = xAxes.length;
xAxes.push({type: 'value', gridIndex: 4, min: 0, max: 1, position: 'bottom', z: 10,
  axisLine: {show: true, onZero: false, lineStyle: {color: '#000', width: 1.2}}, axisTick: {show: false}, axisLabel: {show: false}, splitLine: {show: false}});
xAxes.push({type: 'value', gridIndex: 4, min: 0, max: 1, position: 'top', z: 10,
  axisLine: {show: true, onZero: false, lineStyle: {color: '#000', width: 1.2}}, axisTick: {show: false}, axisLabel: {show: false}, splitLine: {show: false}});
const cbY = yAxes.length;
const cbMaj = tickVals(probRange[0], probRange[1], 0.1);
const cbMinor = minorVals(probRange[0], probRange[1], 0.1, 5);
yAxes.push({type: 'value', gridIndex: 4, min: probRange[0], max: probRange[1], position: 'right', z: 10,
  axisLine: {show: true, onZero: false, lineStyle: {color: '#000', width: 1.2}},
  axisTick: {show: true, inside: true, length: 6, lineStyle: {color: '#000', width: 1}, customValues: cbMaj},
  axisLabel: {show: true, customValues: cbMaj, margin: 8, formatter: fmt(1), color: '#000', fontSize: FS, fontFamily: FONT},
  splitLine: {show: false}});
yAxes.push({type: 'value', gridIndex: 4, min: probRange[0], max: probRange[1], position: 'right', z: 10,
  axisLine: {show: false, onZero: false},
  axisTick: {show: true, inside: true, length: 3.5, lineStyle: {color: '#000', width: 0.8}, customValues: cbMinor},
  axisLabel: {show: false}, splitLine: {show: false}});
yAxes.push({type: 'value', gridIndex: 4, min: probRange[0], max: probRange[1], position: 'left', z: 10,
  axisLine: {show: true, onZero: false, lineStyle: {color: '#000', width: 1.2}}, axisTick: {show: false}, axisLabel: {show: false}, splitLine: {show: false}});

const pointStyle = {opacity: 0.8, borderColor: 'rgba(45,45,45,0.85)', borderWidth: 0.5};
function scatter(i, data) {
  return {type: 'scatter', xAxisIndex: mainX[i], yAxisIndex: mainY[i], data: data, symbolSize: 9.5,
    itemStyle: pointStyle, emphasis: {disabled: true}, z: 2};
}
const gradStops = plasma.map((c, i) => ({offset: 1 - i / (plasma.length - 1), color: c})).reverse();

const option = {
  animation: false,
  backgroundColor: '#fff',
  textStyle: {fontFamily: FONT},
  grid: grids,
  xAxis: xAxes,
  yAxis: yAxes,
  visualMap: {type: 'continuous', show: false, min: probRange[0], max: probRange[1], dimension: 2,
    seriesIndex: [0, 1, 2, 3], inRange: {color: plasma}},
  series: [
    scatter(0, glonGlatYellow.concat(glonGlatOuter, glonGlatCore, glonGlatColored)),
    scatter(1, pmYellow.concat(pmOuter, pmCore, pmColored)),
    scatter(2, plxUpper.concat(plxLowerYellow, plxLowerColored)),
    scatter(3, cmdUpper.concat(cmdLower)),
    {type: 'line', xAxisIndex: mainX[2], yAxisIndex: mainY[2], z: 5, symbol: 'none', clip: true,
      data: [[plxCluster, plxLineG[0]], [plxCluster, plxLineG[1]]],
      lineStyle: {color: '#000', width: 4.6, type: [4.6, 10.1], cap: 'butt'}},
    {type: 'custom', xAxisIndex: cbX, yAxisIndex: cbY, z: 1, data: [[0, probRange[0], probRange[1]]],
      encode: {x: 0, y: [1, 2]},
      renderItem: function (params, api) {
        const a = api.coord([0, api.value(1)]);
        const b = api.coord([1, api.value(2)]);
        return {type: 'rect', shape: {x: a[0], y: b[1], width: b[0] - a[0], height: a[1] - b[1]},
          style: {fill: new echarts.graphic.LinearGradient(0, 0, 0, 1, gradStops), opacity: 0.8}};
      }}
  ]
};
const chart = echarts.init(document.getElementById('c'), null, {renderer: 'canvas', width: 1133, height: 965});
chart.setOption(option);
</script></body></html>
